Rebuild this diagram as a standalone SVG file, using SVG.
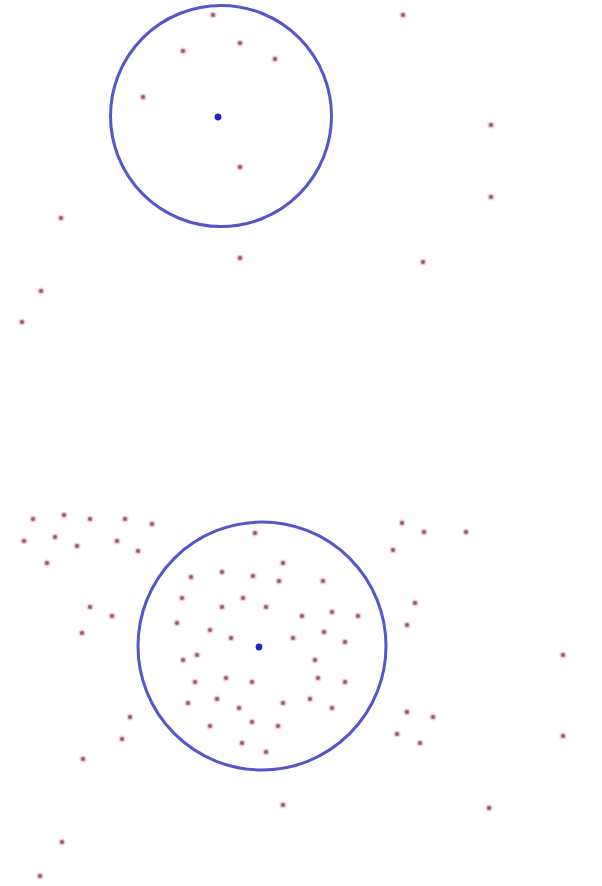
<svg xmlns="http://www.w3.org/2000/svg" xmlns:xlink="http://www.w3.org/1999/xlink" width="602" height="886" viewBox="0 0 602 886">
<style>
.ring{fill:none;stroke:#5656c9;stroke-width:3}
.halo{fill:#f3cdd4}
.dot{fill:#976070}
.ctr{fill:#2424c0}
</style>
<defs>
<g id="p"><circle class="halo" r="3.6"/><circle class="dot" r="2"/></g>
</defs>
<rect width="602" height="886" fill="#ffffff"/>
<g id="top">
<circle class="ring" cx="221" cy="116" r="110.5"/>
<circle class="ctr" cx="218" cy="117" r="3.4"/>
<g id="top-points">
<use xlink:href="#p" x="213" y="15"/>
<use xlink:href="#p" x="240" y="43"/>
<use xlink:href="#p" x="183" y="51"/>
<use xlink:href="#p" x="275" y="59"/>
<use xlink:href="#p" x="143" y="97"/>
<use xlink:href="#p" x="240" y="167"/>
<use xlink:href="#p" x="403" y="15"/>
<use xlink:href="#p" x="491" y="125"/>
<use xlink:href="#p" x="491" y="197"/>
<use xlink:href="#p" x="61" y="218"/>
<use xlink:href="#p" x="240" y="258"/>
<use xlink:href="#p" x="423" y="262"/>
<use xlink:href="#p" x="41" y="291"/>
<use xlink:href="#p" x="22" y="322"/>
</g>
</g>
<g id="bottom">
<circle class="ring" cx="262" cy="646" r="124"/>
<circle class="ctr" cx="259" cy="647" r="3.4"/>
<g id="bottom-points">
<use xlink:href="#p" x="33" y="519"/>
<use xlink:href="#p" x="64" y="515"/>
<use xlink:href="#p" x="90" y="519"/>
<use xlink:href="#p" x="125" y="519"/>
<use xlink:href="#p" x="152" y="524"/>
<use xlink:href="#p" x="24" y="541"/>
<use xlink:href="#p" x="55" y="537"/>
<use xlink:href="#p" x="77" y="546"/>
<use xlink:href="#p" x="117" y="541"/>
<use xlink:href="#p" x="138" y="551"/>
<use xlink:href="#p" x="47" y="563"/>
<use xlink:href="#p" x="191" y="577"/>
<use xlink:href="#p" x="182" y="598"/>
<use xlink:href="#p" x="90" y="607"/>
<use xlink:href="#p" x="112" y="616"/>
<use xlink:href="#p" x="177" y="623"/>
<use xlink:href="#p" x="82" y="633"/>
<use xlink:href="#p" x="255" y="533"/>
<use xlink:href="#p" x="283" y="563"/>
<use xlink:href="#p" x="222" y="572"/>
<use xlink:href="#p" x="253" y="576"/>
<use xlink:href="#p" x="279" y="581"/>
<use xlink:href="#p" x="323" y="581"/>
<use xlink:href="#p" x="243" y="598"/>
<use xlink:href="#p" x="222" y="607"/>
<use xlink:href="#p" x="266" y="607"/>
<use xlink:href="#p" x="302" y="616"/>
<use xlink:href="#p" x="332" y="612"/>
<use xlink:href="#p" x="358" y="616"/>
<use xlink:href="#p" x="210" y="630"/>
<use xlink:href="#p" x="324" y="632"/>
<use xlink:href="#p" x="402" y="523"/>
<use xlink:href="#p" x="393" y="550"/>
<use xlink:href="#p" x="424" y="532"/>
<use xlink:href="#p" x="466" y="532"/>
<use xlink:href="#p" x="415" y="603"/>
<use xlink:href="#p" x="407" y="625"/>
<use xlink:href="#p" x="183" y="660"/>
<use xlink:href="#p" x="197" y="655"/>
<use xlink:href="#p" x="195" y="682"/>
<use xlink:href="#p" x="188" y="703"/>
<use xlink:href="#p" x="130" y="717"/>
<use xlink:href="#p" x="122" y="739"/>
<use xlink:href="#p" x="83" y="759"/>
<use xlink:href="#p" x="231" y="638"/>
<use xlink:href="#p" x="293" y="638"/>
<use xlink:href="#p" x="345" y="642"/>
<use xlink:href="#p" x="315" y="660"/>
<use xlink:href="#p" x="226" y="678"/>
<use xlink:href="#p" x="252" y="682"/>
<use xlink:href="#p" x="318" y="678"/>
<use xlink:href="#p" x="345" y="682"/>
<use xlink:href="#p" x="217" y="699"/>
<use xlink:href="#p" x="239" y="708"/>
<use xlink:href="#p" x="283" y="703"/>
<use xlink:href="#p" x="310" y="699"/>
<use xlink:href="#p" x="332" y="708"/>
<use xlink:href="#p" x="210" y="726"/>
<use xlink:href="#p" x="252" y="722"/>
<use xlink:href="#p" x="278" y="726"/>
<use xlink:href="#p" x="242" y="743"/>
<use xlink:href="#p" x="266" y="752"/>
<use xlink:href="#p" x="397" y="734"/>
<use xlink:href="#p" x="563" y="655"/>
<use xlink:href="#p" x="407" y="712"/>
<use xlink:href="#p" x="433" y="717"/>
<use xlink:href="#p" x="420" y="743"/>
<use xlink:href="#p" x="563" y="736"/>
<use xlink:href="#p" x="283" y="805"/>
<use xlink:href="#p" x="62" y="842"/>
<use xlink:href="#p" x="40" y="876"/>
<use xlink:href="#p" x="489" y="808"/>
</g>
</g>
</svg>
